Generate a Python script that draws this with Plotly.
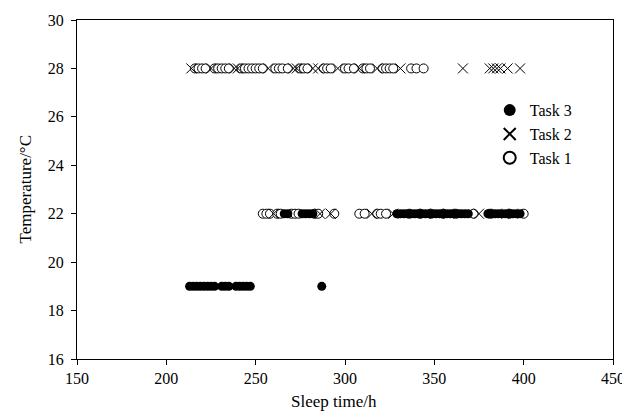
import plotly.graph_objects as go

# Task 1 (open circles)
task1_x_28 = [216, 218, 220, 222, 227, 229, 231, 233, 235, 242, 244, 246, 248, 250, 252, 254,
              261, 263, 265, 268, 275, 277, 279, 288, 290, 292, 300, 302, 305, 310, 312, 314,
              321, 323, 325, 327, 337, 340, 344]
task1_x_22 = [254, 256, 258, 262, 264, 270, 272, 274, 283, 285, 294, 308, 311, 318, 320, 323,
              336, 342, 348, 355, 362, 372, 381, 392, 400]
# Task 2 (crosses)
task2_x_28 = [214, 225, 238, 240, 257, 271, 273, 282, 285, 296, 308, 318, 331, 366,
              381, 383, 385, 387, 391, 398]
task2_x_22 = [260, 286, 292, 315, 327, 345, 358, 375, 385, 394]
# Task 3 (filled dots)
task3_x_22 = [266, 268, 276, 278, 280, 282, 329, 331, 333, 335, 337, 339, 341, 343, 345, 347,
              349, 351, 353, 355, 357, 359, 361, 363, 365, 367, 369, 380, 382, 384, 386, 388,
              390, 392, 394, 396, 398]
task3_x_19 = [213, 215, 217, 219, 221, 223, 225, 227, 231, 233, 235, 239, 241, 243, 245, 247, 287]

temps = {"t28": 28, "t22": 22, "t19": 19}

x_ticks = [150, 200, 250, 300, 350, 400, 450]
y_ticks = [16, 18, 20, 22, 24, 26, 28, 30]

FONT = "Liberation Serif, Times New Roman, serif"

fig = go.Figure()
fig.add_trace(go.Scatter(
    x=task1_x_28 + task1_x_22,
    y=[temps["t28"]] * len(task1_x_28) + [temps["t22"]] * len(task1_x_22),
    mode="markers", name="Task 1",
    marker=dict(symbol="circle", size=9, color="white", line=dict(color="black", width=1)),
))
fig.add_trace(go.Scatter(
    x=task2_x_28 + task2_x_22,
    y=[temps["t28"]] * len(task2_x_28) + [temps["t22"]] * len(task2_x_22),
    mode="markers", name="Task 2",
    marker=dict(symbol="x-thin", size=10, color="black", line=dict(color="black", width=1)),
))
fig.add_trace(go.Scatter(
    x=task3_x_22 + task3_x_19,
    y=[temps["t22"]] * len(task3_x_22) + [temps["t19"]] * len(task3_x_19),
    mode="markers", name="Task 3",
    marker=dict(symbol="circle", size=9, color="black"),
))

axis_common = dict(
    showgrid=False, zeroline=False, showline=True, linecolor="black", linewidth=1,
    mirror=True, ticks="outside", ticklen=5, tickcolor="black", tickwidth=1,
    tickfont=dict(family=FONT, size=16, color="black"), automargin=False,
)
fig.update_xaxes(range=[150, 450], tickvals=x_ticks, ticktext=[str(v) for v in x_ticks],
                 **axis_common)
fig.update_yaxes(range=[16, 30], tickvals=y_ticks, ticktext=[str(v) for v in y_ticks],
                 ticklabelstandoff=4, **axis_common)

# The page body has an 8px margin, so the figure is sized/margined to compensate.
fig.update_layout(
    width=622, height=406,
    margin=dict(l=69, r=17, t=12, b=55),
    paper_bgcolor="white", plot_bgcolor="white",
    showlegend=True,
    legend=dict(x=0.77, y=0.784, xanchor="left", yanchor="top", traceorder="reversed",
                bgcolor="rgba(0,0,0,0)", font=dict(family=FONT, size=16, color="black"),
                itemsizing="constant", tracegroupgap=0),
    annotations=[
        dict(text="Sleep time/h", xref="paper", yref="paper", x=0.48, y=0, yshift=-42,
             xanchor="center", yanchor="middle", showarrow=False,
             font=dict(family=FONT, size=17, color="black")),
        dict(text="Temperature/°C", xref="paper", yref="paper", x=0, y=0.5, xshift=-52,
             xanchor="center", yanchor="middle", textangle=-90, showarrow=False,
             font=dict(family=FONT, size=17, color="black")),
    ],
)

fig.write_html("out.html")
